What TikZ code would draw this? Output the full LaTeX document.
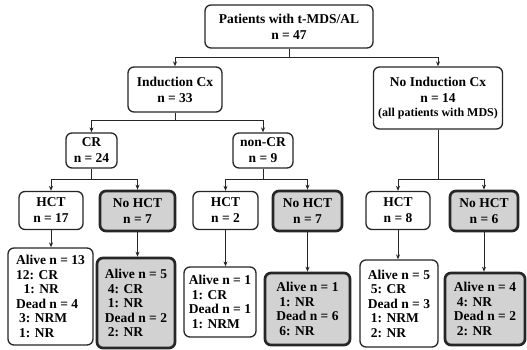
\documentclass[tikz,border=0pt]{standalone}
\usepackage{fontspec}
\setmainfont{Liberation Serif}
\usetikzlibrary{arrows.meta}
\begin{document}
\begin{tikzpicture}[x=1pt,y=-1pt,
 font={\bfseries\fontsize{13.5}{16}\selectfont},
 box/.style={draw=black!85,line width=1.3pt,rounded corners=6pt,fill=white,align=center,inner sep=0pt},
 gbox/.style={box,fill=gray!35,line width=2.7pt},
 lbox/.style={align=left,font={\bfseries\fontsize{13.5}{14.5}\selectfont}},
 conn/.style={draw=black!85,line width=1pt},
 arr/.style={conn,-{Stealth[length=5pt,width=4pt]}}]
\useasboundingbox (0,0) rectangle (527,349);
% level 0
\node[box,minimum width=168pt,minimum height=43pt] (top) at (289,26.5) {Patients with t-MDS/AL\\n = 47};
% level 1
\node[box,minimum width=94pt,minimum height=45pt] (ind) at (175,89.5) {Induction Cx\\n = 33};
\node[box,minimum width=129pt,minimum height=62pt] (noind) at (438,98) {No Induction Cx\\n = 14\\[-2pt]{\fontsize{12}{14}\selectfont(all patients with MDS)}};
% level 2
\node[box,minimum width=51pt,minimum height=35pt] (cr) at (91.5,150.5) {CR\\n = 24};
\node[box,minimum width=60pt,minimum height=35pt] (noncr) at (263,150.5) {non-CR\\n = 9};
% level 3
\node[box,minimum width=64pt,minimum height=38pt] (hct1) at (51,210.5) {HCT\\n = 17};
\node[gbox,minimum width=75pt,minimum height=40pt] (nohct1) at (137.5,211) {No HCT\\n = 7};
\node[box,minimum width=65pt,minimum height=38pt] (hct2) at (225.5,210.5) {HCT\\n = 2};
\node[gbox,minimum width=69pt,minimum height=40pt] (nohct2) at (307.5,211) {No HCT\\n = 7};
\node[box,minimum width=64pt,minimum height=38pt] (hct3) at (398,210.5) {HCT\\n = 8};
\node[gbox,minimum width=68pt,minimum height=40pt] (nohct3) at (484,211) {No HCT\\n = 6};
% level 4
\node[box,lbox,minimum width=85pt,minimum height=97pt] (b1) at (50.5,296.5)
 {Alive n = 13\\12: CR\\\hspace*{7.5pt}1: NR\\Dead n = 4\\\hspace*{3pt}3: NRM\\\hspace*{3pt}1: NR};
\node[gbox,lbox,minimum width=78pt,minimum height=90pt] (b2) at (136,303)
 {Alive n = 5\\\hspace*{3pt}4: CR\\\hspace*{3pt}1: NR\\Dead n = 2\\\hspace*{3pt}2: NR};
\node[box,lbox,minimum width=72pt,minimum height=70pt] (b3) at (220,302)
 {Alive n = 1\\\hspace*{3pt}1: CR\\Dead n = 1\\\hspace*{3pt}1: NRM};
\node[gbox,lbox,minimum width=85pt,minimum height=72pt] (b4) at (307.5,309)
 {Alive n = 1\\\hspace*{3pt}1: NR\\Dead n = 6\\\hspace*{3pt}6: NR};
\node[box,lbox,minimum width=78pt,minimum height=87pt] (b5) at (399,303.5)
 {Alive n = 5\\\hspace*{3pt}5: CR\\Dead n = 3\\\hspace*{3pt}1: NRM\\\hspace*{3pt}2: NR};
\node[gbox,lbox,minimum width=80pt,minimum height=72pt] (b6) at (485,309)
 {Alive n = 4\\\hspace*{3pt}4: NR\\Dead n = 2\\\hspace*{3pt}2: NR};
% connectors
\coordinate (j0) at (top.south |- 0,57);
\draw[conn] (top.south) -- (j0);
\draw[arr] (j0) -| (ind.north);
\draw[arr] (j0) -| (noind.north);
\coordinate (j1) at (ind.south |- 0,120);
\draw[conn] (ind.south) -- (j1);
\draw[arr] (j1) -| (cr.north);
\draw[arr] (j1) -| (noncr.north);
\coordinate (j2) at (cr.south |- 0,179);
\draw[conn] (cr.south) -- (j2);
\draw[arr] (j2) -| (hct1.north);
\draw[arr] (j2) -| (nohct1.north);
\coordinate (j3) at (noncr.south |- 0,179);
\draw[conn] (noncr.south) -- (j3);
\draw[arr] (j3) -| (hct2.north);
\draw[arr] (j3) -| (nohct2.north);
\coordinate (j4) at (noind.south |- 0,179);
\draw[conn] (noind.south) -- (j4);
\draw[arr] (j4) -| (hct3.north);
\draw[arr] (j4) -| (nohct3.north);
\draw[arr] (hct1.south) -- (hct1.south |- b1.north);
\draw[arr] (nohct1.south) -- (nohct1.south |- b2.north);
\draw[arr] (hct2.south) -- (hct2.south |- b3.north);
\draw[arr] (nohct2.south) -- (nohct2.south |- b4.north);
\draw[arr] (hct3.south) -- (hct3.south |- b5.north);
\draw[arr] (nohct3.south) -- (nohct3.south |- b6.north);
\end{tikzpicture}
\end{document}
